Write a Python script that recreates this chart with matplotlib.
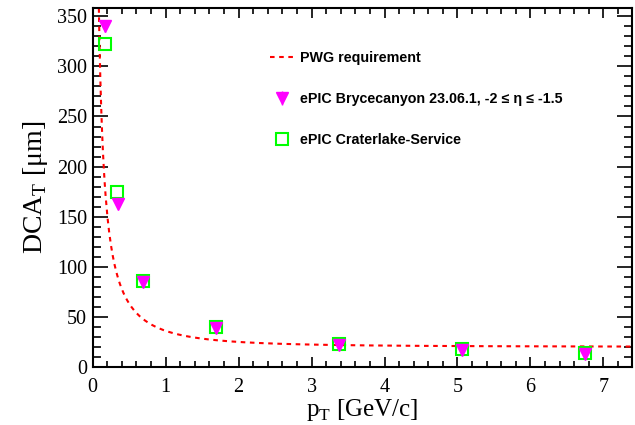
import numpy as np
import matplotlib
matplotlib.use("Agg")
import matplotlib.pyplot as plt
from matplotlib.ticker import MultipleLocator

# ---- data ----
pt_bryce = [0.173, 0.35, 0.685, 1.69, 3.38, 5.06, 6.75]
dca_bryce = [340, 163, 85, 39, 22, 17, 13]
err_bryce = [6, 3, 2, 1, 1, 1, 1]

pt_crater = [0.173, 0.338, 0.685, 1.69, 3.38, 5.06, 6.75]
dca_crater = [322, 175, 86, 40, 23, 18, 14]

# PWG requirement: a/pT (+) b  [um]
pwg_a = 30.0
pwg_b = 20.0
pwg_pt_min = 0.08
pwg_pt_max = 7.4

labels = ["PWG requirement",
          "ePIC Brycecanyon 23.06.1, -2 \u2264 \u03b7 \u2264 -1.5",
          "ePIC Craterlake-Service"]

serif = "Liberation Serif"
plt.rcParams["mathtext.fontset"] = "custom"
plt.rcParams["mathtext.rm"] = serif

fig = plt.figure(figsize=(6.35, 4.25), dpi=100)
ax = fig.add_axes([0.146, 0.1365, 0.849, 0.844])

pt_curve = np.linspace(pwg_pt_min, pwg_pt_max, 600)
dca_curve = np.sqrt((pwg_a / pt_curve) ** 2 + pwg_b ** 2)
l_pwg, = ax.plot(pt_curve, dca_curve, color="#ff0000", lw=1.5,
                 linestyle=(0, (2.2, 2.2)), zorder=2)

l_cr, = ax.plot(pt_crater, dca_crater, linestyle="none", marker="s",
                markersize=9, markerfacecolor="none", markeredgecolor="#00ff00",
                markeredgewidth=1.5, zorder=3)
eb = ax.errorbar(pt_bryce, dca_bryce, yerr=err_bryce, linestyle="none",
                 marker="v", markersize=8.5, color="#ff00ff", ecolor="#ff00ff",
                 elinewidth=1.0, capsize=0, zorder=4)

ax.set_xlim(0, 7.39)
ax.set_ylim(0, 358)

ax.xaxis.set_major_locator(MultipleLocator(1))
ax.xaxis.set_minor_locator(MultipleLocator(0.2))
ax.yaxis.set_major_locator(MultipleLocator(50))
ax.yaxis.set_minor_locator(MultipleLocator(10))

ax.tick_params(axis="x", which="major", direction="in", length=7.5, width=1.2,
               top=True, bottom=True, pad=8)
ax.tick_params(axis="x", which="minor", direction="in", length=4, width=1.2,
               top=True, bottom=True)
ax.tick_params(axis="y", which="major", direction="in", length=11, width=1.2,
               left=True, right=True, pad=4)
ax.tick_params(axis="y", which="minor", direction="in", length=5.5, width=1.2,
               left=True, right=True)
for s in ax.spines.values():
    s.set_linewidth(1.5)

for lab in ax.get_xticklabels() + ax.get_yticklabels():
    lab.set_fontfamily(serif)
    lab.set_fontsize(14.5)

ax.set_xlabel(r"p$_\mathregular{T}$ [GeV/c]", fontfamily=serif, fontsize=18,
              labelpad=0)
ax.set_ylabel(r"DCA$_\mathregular{T}$ [$\mathregular{\mu}$m]", fontfamily=serif,
              fontsize=20, labelpad=5)

leg = ax.legend([l_pwg, eb, l_cr], labels, loc="upper left",
                bbox_to_anchor=(0.405, 0.91), bbox_transform=fig.transFigure,
                frameon=False, handlelength=1.7, handletextpad=0.4,
                labelspacing=1.88, prop={"family": "Liberation Sans",
                                          "weight": "bold", "size": 10.3})

fig.savefig("out.png", dpi=100)
